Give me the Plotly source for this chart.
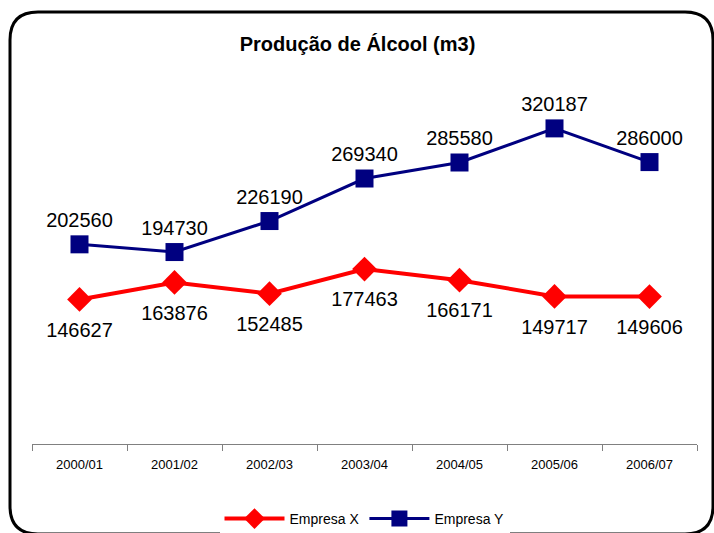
import plotly.graph_objects as go

categories = ["2000/01", "2001/02", "2002/03", "2003/04", "2004/05", "2005/06", "2006/07"]
empresa_x = [146627, 163876, 152485, 177463, 166171, 149717, 149606]
empresa_y = [202560, 194730, 226190, 269340, 285580, 320187, 286000]

W, H = 714, 533
L, R, T, B = 32, 17, 99, 89
pw, ph = W - L - R, H - T - B

def px(x):
    return (x - L) / pw

def py(y):
    return (H - B - y) / ph

FONT = "Liberation Sans, Arial"

fig = go.Figure()
fig.add_trace(go.Scatter(
    x=categories, y=empresa_x, name="Empresa X", mode="lines+markers", cliponaxis=False,
    line=dict(color="#ff0000", width=4),
    marker=dict(symbol="diamond", size=19, color="#ff0000"),
))
fig.add_trace(go.Scatter(
    x=categories, y=empresa_x, mode="markers+text", showlegend=False, hoverinfo="skip",
    cliponaxis=False,
    marker=dict(size=34, color="rgba(0,0,0,0)"),
    text=[str(v) for v in empresa_x], textposition="bottom center",
    textfont=dict(family=FONT, size=20, color="black"),
))
fig.add_trace(go.Scatter(
    x=categories, y=empresa_y, name="Empresa Y", mode="lines+markers+text", cliponaxis=False,
    line=dict(color="#000080", width=3),
    marker=dict(symbol="square", size=18, color="#000080"),
    text=[str(v) for v in empresa_y], textposition="top center",
    textfont=dict(family=FONT, size=20, color="black"),
))

# rounded frame
x0, y0, x1, y1, r = 10, 12, 713, 534, 28
rx, ry = r / pw, r / ph
X0, X1, Y0, Y1 = px(x0), px(x1), py(y0), py(y1)
path = (f"M {X0+rx},{Y0} L {X1-rx},{Y0} Q {X1},{Y0} {X1},{Y0-ry} "
        f"L {X1},{Y1+ry} Q {X1},{Y1} {X1-rx},{Y1} L {X0+rx},{Y1} "
        f"Q {X0},{Y1} {X0},{Y1+ry} L {X0},{Y0-ry} Q {X0},{Y0} {X0+rx},{Y0} Z")
fig.add_shape(type="path", path=path, xref="paper", yref="paper",
              line=dict(color="black", width=3))

fig.update_layout(
    width=W, height=H,
    margin=dict(l=L, r=R, t=T, b=B, autoexpand=False),
    paper_bgcolor="white", plot_bgcolor="white",
    title=dict(text="<b>Produção de Álcool (m3)</b>", x=px(365), xanchor="center",
               y=1 - 44 / H, yanchor="middle",
               font=dict(family=FONT, size=20, color="black")),
    xaxis=dict(type="category", tickson="boundaries", ticks="outside", ticklen=6,
               tickcolor="#808080", showline=True, linecolor="#808080", linewidth=1,
               showgrid=False, tickfont=dict(family=FONT, size=13, color="black"),
               ticklabelstandoff=8, range=[-0.5, 6.5], automargin=False),
    yaxis=dict(range=[0, 350000], visible=False, showgrid=False, automargin=False),
    showlegend=True,
    legend=dict(orientation="h", x=0.5, xanchor="center", y=py(519), yanchor="middle",
                font=dict(family=FONT, size=14, color="black"),
                itemwidth=60, tracegroupgap=0),
)

fig.write_html("out.html", config={"displayModeBar": False},
               post_script="document.body.style.margin='0';")
